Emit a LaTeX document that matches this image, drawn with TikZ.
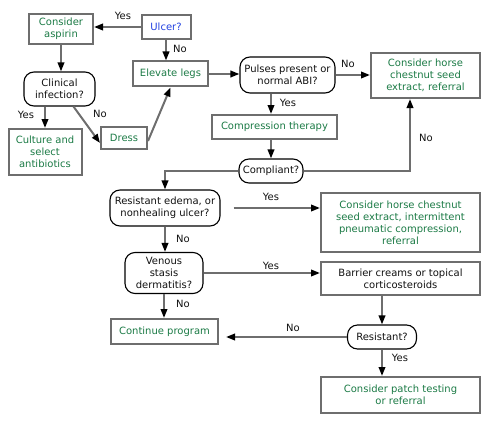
\documentclass[tikz,border=0pt]{standalone}
\usepackage{fontspec}
\setmainfont{DejaVu Sans}
\usetikzlibrary{arrows.meta,calc}
\definecolor{boxgray}{HTML}{6E6E6E}
\definecolor{txtgreen}{HTML}{1B7A45}
\definecolor{txtblue}{HTML}{2040E0}
\definecolor{txtdark}{HTML}{111111}
\begin{document}
\begin{tikzpicture}[x=1pt,y=-1pt,
  font=\fontsize{10}{12}\selectfont,
  base/.style={inner sep=0pt,align=center},
  actbox/.style={base,draw=boxgray,line width=2pt,rectangle,text=txtgreen},
  plainbox/.style={base,draw=boxgray,line width=2pt,rectangle,text=txtdark},
  decbox/.style={base,draw=black,line width=1.1pt,rectangle,rounded corners=10pt,text=txtdark},
  arr/.style={draw=boxgray,line width=2pt,-{Triangle[length=9pt,width=6.5pt,color=black]}},
  lbl/.style={text=txtdark,inner sep=0pt}]
\useasboundingbox (0,0) rectangle (494,425);

\node[plainbox,text=txtblue,minimum width=49pt,minimum height=24pt] (ulcer) at (166,27) {Ulcer?};
\node[actbox,minimum width=64pt,minimum height=30pt] (aspirin) at (61,29) {Consider\\aspirin};
\node[actbox,minimum width=75pt,minimum height=25pt] (elevate) at (170.5,74) {Elevate legs};
\node[decbox,minimum width=71pt,minimum height=34pt] (clinical) at (59.5,89) {Clinical\\infection?};
\node[actbox,minimum width=73pt,minimum height=46pt] (culture) at (45,152) {Culture and\\select\\antibiotics};
\node[actbox,minimum width=46pt,minimum height=22pt] (dress) at (124,138) {Dress};
\node[decbox,minimum width=95pt,minimum height=36pt] (pulses) at (287.5,75) {Pulses present or\\normal ABI?};
\node[actbox,minimum width=109pt,minimum height=45pt] (horse1) at (425.5,75.5) {Consider horse\\chestnut seed\\extract, referral};
\node[actbox,minimum width=125pt,minimum height=24pt] (compress) at (274.5,127) {Compression therapy};
\node[decbox,minimum width=64pt,minimum height=24pt] (compliant) at (271,171) {Compliant?};
\node[decbox,minimum width=110pt,minimum height=36pt] (resed) at (165,208) {Resistant edema, or\\nonhealing ulcer?};
\node[actbox,minimum width=159pt,minimum height=59pt] (horse2) at (400.5,222.5) {Consider horse chestnut\\seed extract, intermittent\\pneumatic compression,\\referral};
\node[decbox,minimum width=78pt,minimum height=41pt] (venous) at (164,273) {Venous\\stasis\\dermatitis?};
\node[plainbox,minimum width=159pt,minimum height=33pt] (barrier) at (400.5,278.5) {Barrier creams or topical\\corticosteroids};
\node[actbox,minimum width=107pt,minimum height=25pt] (continue) at (164.5,331.5) {Continue program};
\node[decbox,minimum width=69pt,minimum height=24pt] (resist) at (382,337) {Resistant?};
\node[actbox,minimum width=159pt,minimum height=36pt] (patch) at (400.5,395) {Consider patch testing\\or referral};

% connectors
\draw[arr] (ulcer.west) -- (ulcer.west -| aspirin.east);
\draw[arr] (ulcer.south) -- (ulcer.south |- elevate.north);
\draw[arr] (aspirin.south) -- (aspirin.south |- clinical.north);
\draw[arr] (clinical.south -| culture) -- (culture.north);
\draw[arr] ([xshift=14pt]clinical.south) -- ([yshift=-5pt]dress.west);
\draw[arr] ([yshift=-3pt]dress.east) -- (elevate.south);
\draw[arr] (elevate.east) -- (elevate.east -| pulses.west);
\draw[arr] (pulses.east) -- (pulses.east -| horse1.west);
\draw[arr] (pulses.south -| compliant) -- (compress.north -| compliant);
\draw[arr] (compress.south -| compliant) -- (compliant.north);
\draw[arr] (compliant.east) -| ([xshift=-15.5pt]horse1.south);
\draw[arr] (compliant.west) -| (resed.north);
\draw[arr] ([xshift=13pt]resed.east) -- (resed.east -| horse2.west);
\draw[arr] (resed.south) -- (resed.south |- venous.north);
\draw[arr] (venous.east) -- (venous.east -| barrier.west);
\draw[arr] (venous.south) -- (venous.south |- continue.north);
\draw[arr] (barrier.south -| resist) -- (resist.north);
\draw[arr] (resist.west) -- ($(resist.west -| continue.east)+(7pt,0)$);
\draw[arr] (resist.south) -- (resist.south |- patch.north);

% labels
\node[lbl] (l1) at (123,16) {Yes};
\node[lbl] (l2) at (180,49) {No};
\node[lbl] (l3) at (26,115) {Yes};
\node[lbl] (l4) at (100,114) {No};
\node[lbl] (l5) at (348,64) {No};
\node[lbl] (l6) at (288,103) {Yes};
\node[lbl] (l7) at (426,138) {No};
\node[lbl] (l8) at (271,197) {Yes};
\node[lbl] (l9) at (183,239) {No};
\node[lbl] (l10) at (271,266) {Yes};
\node[lbl] (l11) at (183,304) {No};
\node[lbl] (l12) at (293,328) {No};
\node[lbl] (l13) at (400,358) {Yes};
\end{tikzpicture}
\end{document}
